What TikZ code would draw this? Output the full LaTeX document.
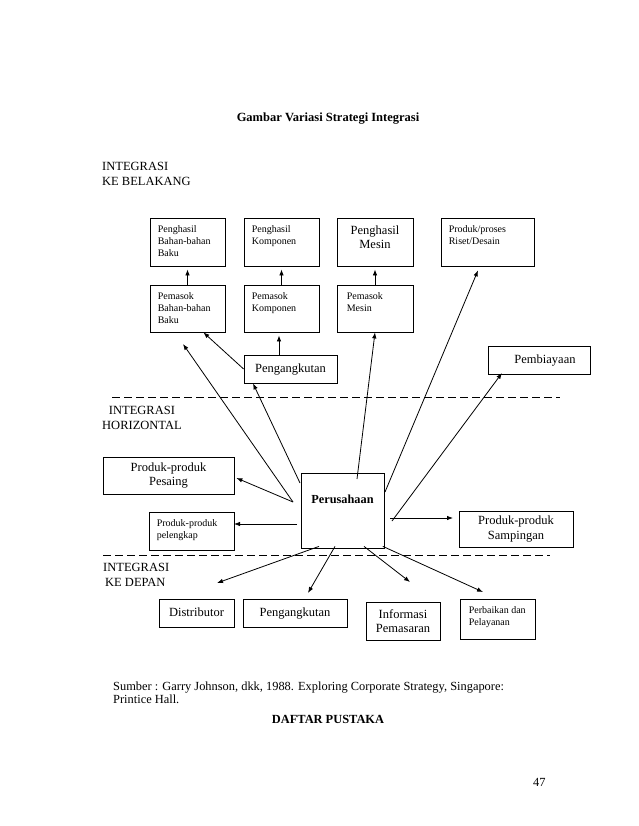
\documentclass[tikz,border=0pt]{standalone}
\usepackage{fontspec}
\setmainfont{Liberation Serif}
\usetikzlibrary{arrows.meta}

\begin{document}
\begin{tikzpicture}[
    x=1pt,y=-1pt,
    box/.style 2 args={draw, line width=0.8pt, inner sep=0, minimum width=#1, minimum height=#2},
    big/.style={font=\fontsize{12.5}{14.5}\selectfont, align=center, inner sep=0},
    one/.style={text height=9pt, text depth=3pt},
    small/.style={font=\fontsize{10}{12}\selectfont, align=left, inner sep=0, anchor=north west},
    head/.style={font=\fontsize{12.5}{15}\selectfont, align=left, inner sep=0, anchor=north west},
    arr/.style={line width=0.8pt, -{Latex[length=6pt,width=4.5pt]}},
    sep/.style={line width=0.8pt, dash pattern=on 8pt off 4pt}
    ]
    \fill[white] (0, 0) rectangle (638, 826);
    \useasboundingbox (0, 0) rectangle (638, 826);
    % title and section labels
    \node[font=\bfseries\fontsize{12.5}{14}\selectfont, anchor=base, inner sep=0] (title) at (328, 122) {Gambar Variasi Strategi Integrasi};
    \node[head] (lblbelakang) at (102, 162) {INTEGRASI\\KE BELAKANG};
    \node[head, align=center] (lblhoriz) at (102, 406) {INTEGRASI\\HORIZONTAL};
    \node[head] (lbldepan) at (103, 563) {INTEGRASI\\\hspace*{2pt}KE DEPAN};
    \draw[sep] (112, 397) -- (560, 397);
    \draw[sep] (103, 555) -- (550, 555);
    % backward boxes
    \node[box={75}{48}] (hbb) at (187.5, 242) {};
    \node[box={75}{48}] (hkp) at (281.5, 242) {};
    \node[box={76}{48}] (hms) at (375, 242) {};
    \node[box={93}{48}] (hrd) at (487.5, 242) {};
    \node[box={75}{47}] (pbb) at (187.5, 308.5) {};
    \node[box={75}{47}] (pkp) at (281.5, 308.5) {};
    \node[box={76}{47}] (pms) at (375, 308.5) {};
    \node[box={93}{28}, big, one] (ang1) at (290.5, 369) {Pengangkutan};
    \node[box={102}{28}] (bia) at (539, 360) {};
    \node[big, one] (biatxt) at ([xshift=6pt]bia.center) {Pembiayaan};
    \node[small] at ([xshift=8pt,yshift=-8pt]hbb.north west) {Penghasil\\Bahan-bahan\\Baku};
    \node[small] at ([xshift=8pt,yshift=-8pt]hkp.north west) {Penghasil\\Komponen};
    \node[big, anchor=north] at ([yshift=-8pt]hms.north) {Penghasil\\Mesin};
    \node[small] at ([xshift=8pt,yshift=-8pt]hrd.north west) {Produk/proses\\Riset/Desain};
    \node[small] at ([xshift=8pt,yshift=-8pt]pbb.north west) {Pemasok\\Bahan-bahan\\Baku};
    \node[small] at ([xshift=8pt,yshift=-8pt]pkp.north west) {Pemasok\\Komponen};
    \node[small] at ([xshift=10pt,yshift=-8pt]pms.north west) {Pemasok\\Mesin};
    % horizontal boxes
    \node[box={131}{37}, big] (pes) at (168.5, 475.5) {Produk-produk\\Pesaing};
    \node[box={85}{38}] (plk) at (191.5, 531) {};
    \node[small] at ([xshift=8pt,yshift=-8pt]plk.north west) {Produk-produk\\pelengkap};
    \node[box={83}{75}] (per) at (342.5, 510.5) {};
    \node[font=\bfseries\fontsize{12.3}{14}\selectfont, inner sep=0, one] (pertxt) at ([yshift=10pt]per.center) {Perusahaan};
    \node[box={114}{36}, big] (smp) at (516, 529) {Produk-produk\\Sampingan};
    % forward boxes
    \node[box={75}{28}, big, one] (dis) at (196.5, 613) {Distributor};
    \node[box={104}{28}, big, one] (ang2) at (295, 613) {Pengangkutan};
    \node[box={74}{38}, big] (inf) at (403, 621) {Informasi\\Pemasaran};
    \node[box={75}{40}] (pbk) at (497.5, 619) {};
    \node[small] at ([xshift=9pt,yshift=-8pt]pbk.north west) {Perbaikan dan\\Pelayanan};
    % free ends of the connectors
    \coordinate (pe1) at (293, 502);
    \coordinate (pe2) at (300, 483);
    \coordinate (pe3) at (357, 479);
    \coordinate (pe4) at (385, 492);
    \coordinate (pe5) at (392, 521);
    \coordinate (pe6) at (297, 524);
    \coordinate (pe7) at (390, 518);
    \coordinate (tbb) at (183, 344);
    \coordinate (tbia) at (502, 373);
    \coordinate (tplk) at (234, 524);
    \coordinate (tsmp) at (453, 518);
    \coordinate (tdis) at (217, 583);
    \coordinate (tang) at (308, 593);
    \coordinate (tinf) at (410, 582);
    \coordinate (tpbk) at (483, 592);
    % connectors
    \draw[arr] (pbb.north) -- ([yshift=-3pt]hbb.south);
    \draw[arr] (pkp.north) -- ([yshift=-3pt]hkp.south);
    \draw[arr] (pms.north) -- ([yshift=-3pt]hms.south);
    \draw[arr] ([xshift=-11.5pt]ang1.north) -- ([xshift=-2.5pt,yshift=-3pt]pkp.south);
    \draw[arr] (ang1.west) -- ([xshift=-22pt]pbb.south east);
    \draw[arr] (pe1) -- (tbb);
    \draw[arr] (pe2) -- ([xshift=-37.5pt]ang1.south);
    \draw[arr] (pe3) -- (pms.south);
    \draw[arr] (pe4) -- ([xshift=-9.5pt,yshift=-4pt]hrd.south);
    \draw[arr] (pe5) -- (tbia);
    \draw[arr] (pe1) -- ([xshift=2pt,yshift=-2.5pt]pes.east);
    \draw[arr] (pe6) -- (tplk);
    \draw[arr] (pe7) -- (tsmp);
    \draw[arr] ([xshift=-23.5pt,yshift=2pt]per.south) -- (tdis);
    \draw[arr] ([xshift=-7.5pt,yshift=2pt]per.south) -- (tang);
    \draw[arr] ([xshift=21.5pt,yshift=2pt]per.south) -- (tinf);
    \draw[arr] ([xshift=-1.5pt,yshift=2pt]per.south east) -- (tpbk);
    % source and footer
    \node[font=\fontsize{12.4}{13}\selectfont, align=left, inner sep=0, anchor=base west] (src) at (113, 703) {Sumber : Garry Johnson, dkk, 1988. Exploring Corporate Strategy, Singapore:\\Printice Hall.};
    \node[font=\bfseries\fontsize{12.4}{14}\selectfont, anchor=base, inner sep=0] (pustaka) at (328, 723) {DAFTAR PUSTAKA};
    \node[font=\fontsize{12.4}{14}\selectfont, anchor=base west, inner sep=0] (page) at (533, 786) {47};
\end{tikzpicture}
\end{document}
